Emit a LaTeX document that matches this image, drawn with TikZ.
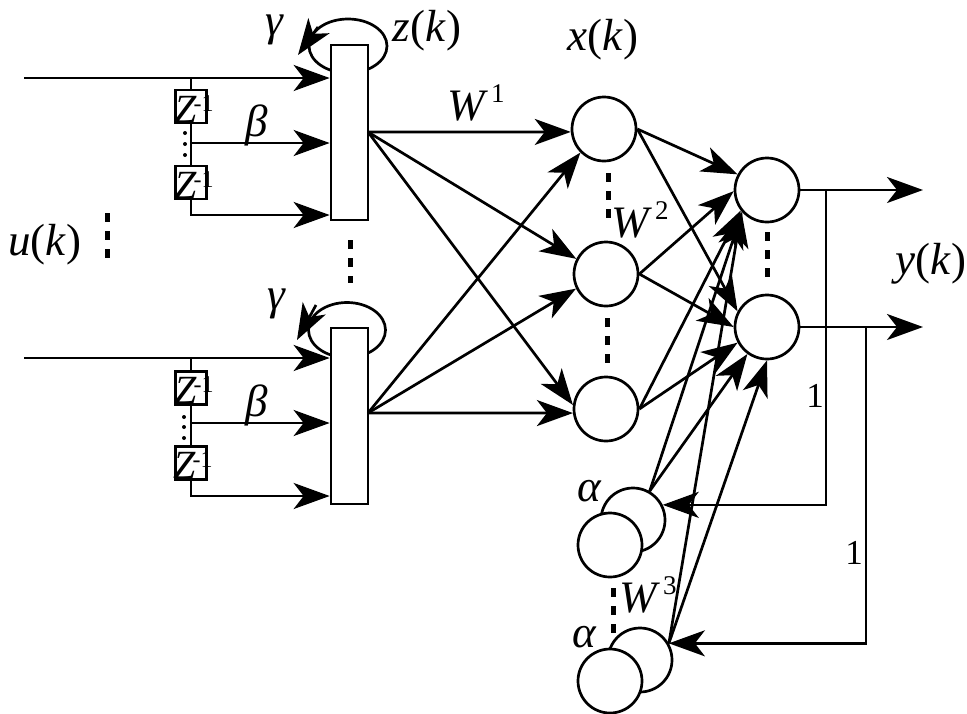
\documentclass[tikz,border=0pt]{standalone}
\usepackage{fontspec}
\setmainfont{Liberation Serif}[ItalicFont={Liberation Serif Italic}]
\usetikzlibrary{arrows.meta}
\newcommand{\supx}[1]{\kern3pt\raisebox{0.40em}{\upshape\fontsize{27}{28}\selectfont #1}}
\newcommand{\zinv}{Z\kern-3pt\raisebox{11pt}{\upshape\fontsize{24}{24}\selectfont -1}}
\begin{document}
\begin{tikzpicture}[x=1pt,y=-1pt, line width=2.7pt,
  arr/.style={-{Stealth[length=36pt,width=26pt,inset=10pt]}},
  neuron/.style={circle, draw, fill=white, minimum size=64pt, inner sep=0pt},
  block/.style={draw, fill=white, inner sep=0pt, minimum width=37pt},
  zbox/.style={draw, fill=white, inner sep=0pt, minimum width=31pt, minimum height=33pt},
  ztext/.style={inner sep=0pt, anchor=base west, font=\fontsize{40}{40}\selectfont\itshape},
  lab/.style={inner sep=0pt, font=\fontsize{45}{48}\selectfont},
  one/.style={inner sep=0pt, font=\fontsize{35}{36}\selectfont},
  vdots/.style={line width=5pt, dash pattern=on 9pt off 9pt},
  smalldot/.style={fill, circle, inner sep=0pt, minimum size=4pt}
]
\useasboundingbox (0,0) rectangle (967,713);

% self loops and blocks
\draw (348,46) ellipse [x radius=39pt, y radius=27pt];
\draw (347,330) ellipse [x radius=38.5pt, y radius=27.5pt];
\node[block, minimum height=175pt] (r1) at (349.5,132.5) {};
\node[block, minimum height=176pt] (r2) at (349.5,416) {};
\coordinate (g1s) at (318,27); \coordinate (g1e) at (298,55);
\draw[arr] (g1s) -- (g1e);
\coordinate (g2s) at (316,305); \coordinate (g2e) at (297,340);
\draw[arr] (g2s) -- (g2e);

% input group 1
\coordinate (in1) at (24,78);
\draw[arr] (in1) -- (in1 -| r1.west);
\node[zbox] (zb1) at (191,106.5) {};
\node[zbox] (zb2) at (191,182.5) {};
\draw (zb1.north |- in1) -- (zb1.north);
\draw (zb1.south) -- (zb2.north);
\coordinate (b1) at (191,143);
\draw[arr] (b1) -- (b1 -| r1.west);
\coordinate (c1) at (191,215);
\draw[arr] (zb2.south) -- (c1) -- (c1 -| r1.west);
\node[smalldot] (d11) at (185,133) {};
\node[smalldot] (d12) at (185,144) {};
\node[smalldot] (d13) at (185,155) {};
\node[ztext] (zt1) at (173,122) {\zinv};
\node[ztext] (zt2) at (173,198) {\zinv};

% input group 2
\coordinate (in2) at (24,358);
\draw[arr] (in2) -- (in2 -| r2.west);
\node[zbox] (zb3) at (191,388) {};
\node[zbox] (zb4) at (191,463) {};
\draw (zb3.north |- in2) -- (zb3.north);
\draw (zb3.south) -- (zb4.north);
\coordinate (b2) at (191,423);
\draw[arr] (b2) -- (b2 -| r2.west);
\coordinate (c2) at (191,496);
\draw[arr] (zb4.south) -- (c2) -- (c2 -| r2.west);
\node[smalldot] (d21) at (184,417) {};
\node[smalldot] (d22) at (184,427) {};
\node[smalldot] (d23) at (184,438) {};
\node[ztext] (zt3) at (173,403) {\zinv};
\node[ztext] (zt4) at (172,478) {\zinv};

% hidden layer
\node[neuron] (h1) at (604,129) {};
\node[neuron] (h2) at (606,274) {};
\node[neuron] (h3) at (606,409) {};
\coordinate (r1o) at (368,132);
\coordinate (r2o) at (368,413);
\draw[arr] (r1o) -- (h1.185);
\draw[arr] (r1o) -- (h2.153);
\draw[arr] (r1o) -- (h3.173);
\draw[arr] (r2o) -- (h1.225);
\draw[arr] (r2o) -- (h2.206);
\draw[arr] (r2o) -- (h3.187);

% output layer
\node[neuron] (o1) at (767,190) {};
\node[neuron] (o2) at (767,327) {};
\draw[arr] (h1.east) -- (o1.152);
\draw[arr] (h1.east) -- (o2.152);
\draw[arr] (h2.east) -- (o1.182);
\draw[arr] (h2.east) -- (o2.180);
\draw[arr] (h3.east) -- (o1.218);
\draw[arr] (h3.east) -- (o2.208);

% context (alpha) neurons
\node[neuron] (a1b) at (633,520) {};
\node[neuron] (a1f) at (610,545) {};
\node[neuron] (a2b) at (640,660) {};
\node[neuron] (a2f) at (610,681) {};
\draw[arr] (a1b.60) -- (o1.222);
\draw[arr] (a1b.60) -- (o2.234);
\draw[arr] (a2b.30) -- (o1.220);
\draw[arr] (a2b.30) -- (o2.270);

% outputs and feedback
\coordinate (y1) at (923,190);
\coordinate (y2) at (923,327);
\draw[arr] (o1.east) -- (y1);
\draw[arr] (o2.east) -- (y2);
\coordinate (f1) at (826,190);
\coordinate (f2) at (866,327);
\draw[arr] (f1) |- (a1b.27);
\draw[arr] (f2) |- (a2b.30);

% vertical ellipsis dots
\draw[vdots] (350,240) -- (350,283);
\draw[vdots] (608,173) -- (608,222);
\draw[vdots] (607,318) -- (607,363);
\draw[vdots] (767,232) -- (767,282);
\draw[vdots] (613,588) -- (613,635);
\draw[vdots] (107,213) -- (107,262);

% labels
\node[lab] (gam1) at (275,30) {\textit{γ}};
\node[lab] (gam2) at (277,304) {\textit{γ}};
\node[lab] (zk) at (427,31) {\textit{z}(\textit{k})};
\node[lab] (xk) at (603,40) {\textit{x}(\textit{k})};
\node[lab] (W1) at (476,103) {\textit{W}\supx{1}};
\node[lab] (W2) at (640,220) {\textit{W}\supx{2}};
\node[lab] (W3) at (648,595) {\textit{W}\supx{3}};
\node[lab] (bet1) at (257,125) {\textit{β}};
\node[lab] (bet2) at (257,405) {\textit{β}};
\node[lab] (uk) at (45,245) {\textit{u}(\textit{k})};
\node[lab] (yk) at (931,264) {\textit{y}(\textit{k})};
\node[lab] (al1) at (590,491) {\textit{α}};
\node[lab] (al2) at (585,637) {\textit{α}};
\node[one] (one1) at (815,396) {1};
\node[one] (one2) at (854,553) {1};
\end{tikzpicture}
\end{document}
